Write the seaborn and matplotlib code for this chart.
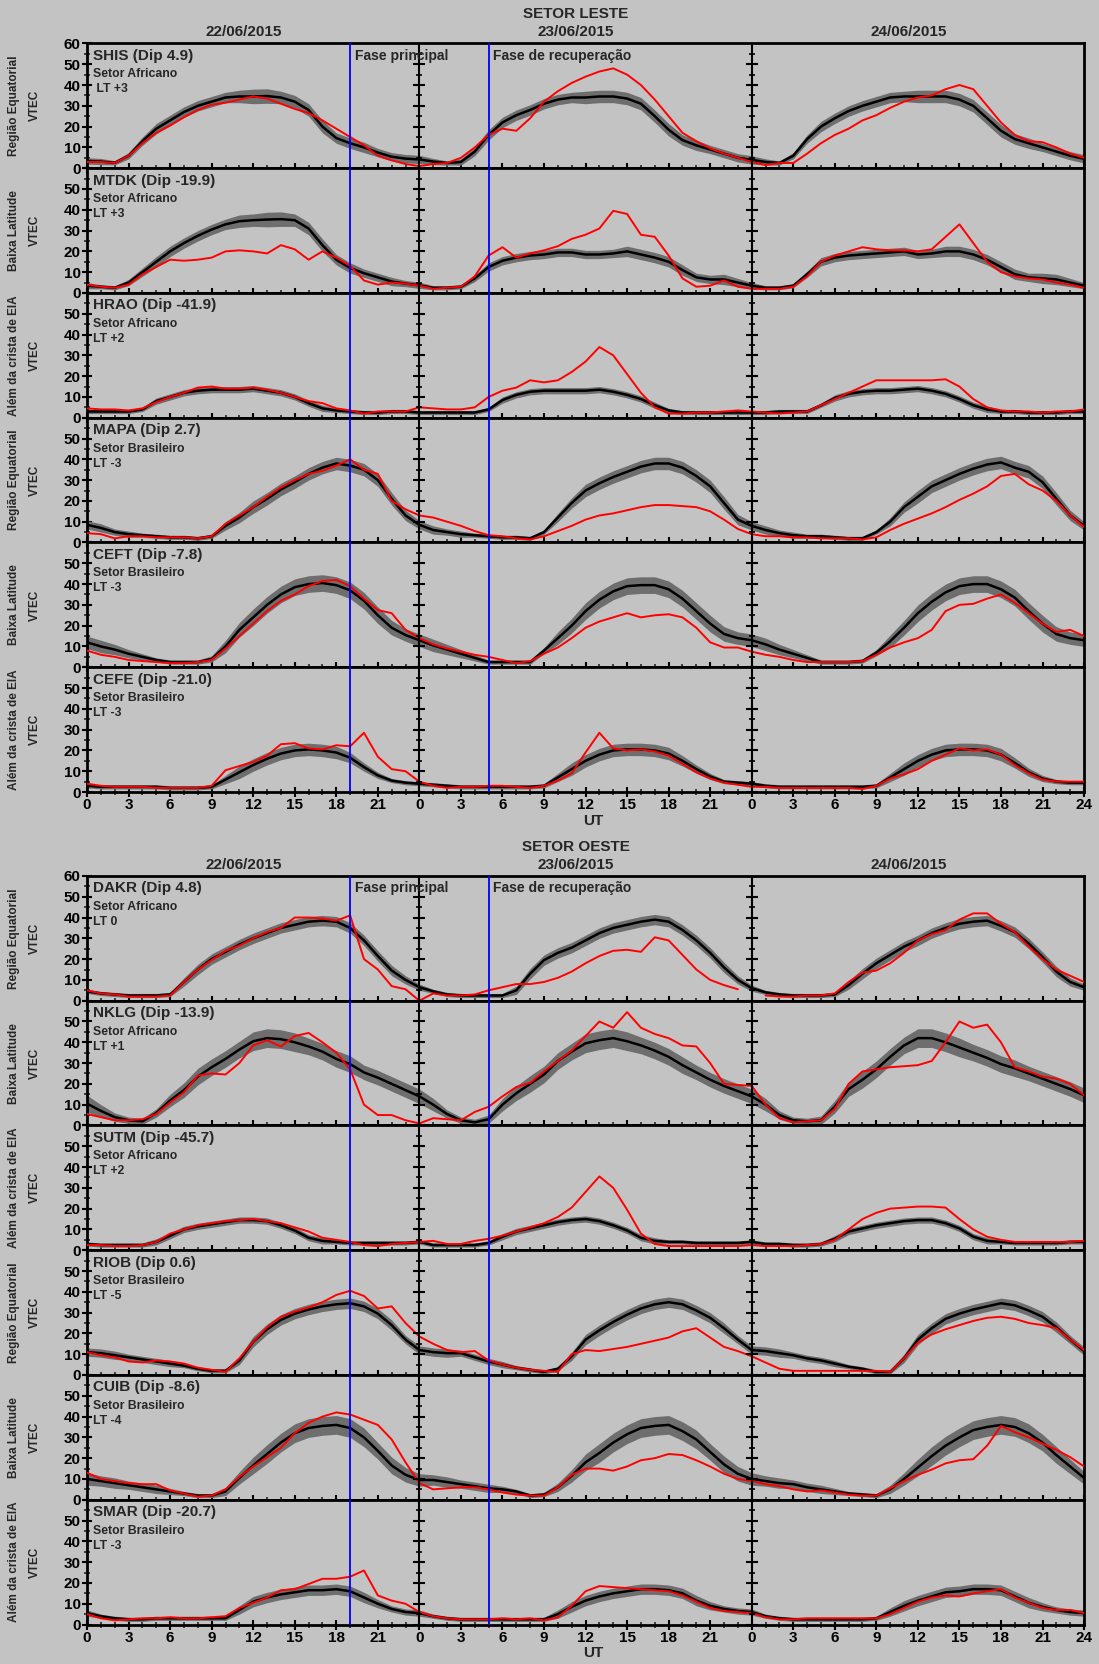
import numpy as np
import matplotlib
matplotlib.use('Agg')
import matplotlib.pyplot as plt
from matplotlib.ticker import MultipleLocator
import seaborn as sns

sns.set_theme(style='ticks')
plt.rcParams['font.family'] = ['Liberation Sans', 'DejaVu Sans']
plt.rcParams['font.weight'] = 'bold'

nan = np.nan
hours = np.arange(73)   # 22/06 00 UT .. 24/06 24 UT
days = ['22/06/2015', '23/06/2015', '24/06/2015']
region_labels = ['Região Equatorial', 'Baixa Latitude', 'Além da crista de EIA']

# ---------------- SETOR LESTE ----------------
SHIS_mean = [3.5,3.2,2.6,6,13,19,23,27,30,32,34,34.5,34.5,34.7,34,32,28,20,14.5,12,10,7.5,5.5,4.6,4.2,
             3.2,2.5,3,8,16,22,25.5,28,31,33,34,34,34.5,34.5,33.5,31,25,18.5,13.5,11,9,7,5,4,
             3,2.5,6,14,20,24,27.5,30,32,34,34.5,34.5,34.5,34.5,33,30,24,18,14,12,10,8,6,4.5]
SHIS_sd = [1.5,1.5,1,1.5,2,2.5,2.5,2.5,2.5,2.5,2.5,3,3.5,3.5,3,3,3,3,2.5,2.5,2.5,2,2,2,2,
           1.5,1,1.5,2,2.5,2.5,2.5,2.5,2.5,2.5,2.5,3,3,3,3,3,3,3,2.5,2.5,2,2,2,2,
           1.5,1,1.5,2,2.5,2.5,2.5,2.5,2.5,2.5,2.5,3,3,3,3,3,3,3,2.5,2.5,2,2,2,2]
SHIS_red = [3,3,2.5,6,12,17,20.5,24.5,28,30.5,31.5,33,34.5,33.5,31,28.5,26.5,23,19,15,11,6,3.8,2,1,
            2,2.5,5,10,16,19,18,24,32,37,41,44,46.5,48,45,40,33,25,17,13,9.5,7,5,3,
            1.5,2.5,2.5,7,12,16,19,23,25.5,29,32,34,35,38,40,38,30,22,16,13,12.5,10,7,5]

MTDK_mean = [3.5,3,2.5,5,10,15,20,24,27.5,30.5,33,34.5,35,35.3,35.5,35,31,23,16,12,9.5,7.5,5.5,4.5,3.7,
             2.5,2.5,3,7,12.5,15.5,17,18,18.5,19.5,19.5,18.5,18.5,19,20,18.5,17,15,11,7.5,6.5,6.5,5,3.5,
             2.5,2.5,3.5,9,15,17,18,18.5,19,19.5,20,18.5,19,20,20,18.5,16,12.5,9,7.5,7,6.5,5,3.5]
MTDK_sd = [1.5,1,1,1.5,2,2.5,2.5,2.5,2.5,2.5,2.5,3,3,3.5,3.5,3,3,3,2.5,2.5,2,2,2,1.5,1.5,
           1,1,1,1.5,2,2,2,2,2,2,2,2,2,2,2.5,2.5,2.5,2.5,2.5,2,2,2.5,2,1.5,
           1,1,1,1.5,2,2,2,2,2,2,2,2,2,2.5,2.5,2.5,2.5,2.5,2.5,2,2.5,2.5,2,1.5]
MTDK_red = [4,3,2.5,4,9,12.5,16,15.5,16,17,20,20.5,20,19,23,21,16,20,17,13,6,4,5,4.5,3.5,
            2,2.5,3,8,18,22,17,19,20.5,22.5,26,28,31,39.5,38,28,27,18,7,3,3.5,6,3,2,
            2,2,3,8,15,18,20,22,21,20.5,20.5,20,21,27,33,24,15,10,8,7,6.5,5,4,2.5]

HRAO_mean = [3,3,3,3,4,8,10,12,13,13.5,13.5,13.5,14,13,12,10,7,4.5,3.5,3,2.5,2.5,3,3,2.5,
             2.5,2.5,2.5,2.5,4,8.5,11,12.5,13,13,13,13,13.5,12.5,11,9,6,3.5,2.5,2.5,2.5,2.5,2.5,2.5,
             2.5,3,3,3,6,9.5,11.5,12.5,13,13,13.5,14,13,11.5,9,6,4,3,3,2.5,2.5,2.5,3,3]
HRAO_sd = [1,1,1,1,1,1.5,1.5,1.5,1.5,1.5,1.5,1.5,1.5,1.5,1.5,1.5,1.5,1.5,1,1,1,1,1,1,1,
           1,1,1,1,1,1.5,1.5,1.5,1.5,1.5,1.5,1.5,1.5,1.5,1.5,1.5,1.5,1,1,1,1,1,1,1,
           1,1,1,1,1,1.5,1.5,1.5,1.5,1.5,1.5,1.5,1.5,1.5,1.5,1.5,1.5,1,1,1,1,1,1,1]
HRAO_red = [4.5,4,4,3.5,4.5,7.5,10,12,14.5,15,14,14,14.5,13.5,12,10,8,7,4.5,3.5,2,3,3,3,5,
            4.5,4,4,5,10,13,14.5,18,17,18,22,27,34,30,21,12,5,2,2,2.5,2.5,3,3.5,3,
            2.5,2,2.5,3,6,9,12,15,18,18,18,18,18,18.5,15,9,5,3.5,3,3,2.5,3,3,4]

MAPA_mean = [8.5,7,5,4,3.5,3,2.5,2.5,2,3,8,12,17,21,25.5,29,33,36,38,37,35,30,21,13,8.5,
             6,5,4,3.5,3,2.5,2.5,2,5,12,19,25,28.5,31.5,34,36.5,38,38,36,32,27,19,11,8,
             6,4.5,3.5,3,3,2.5,2,2,5,10,17,22,27,30,33,35.5,37.5,38.5,36,34,29,21,13,8]
MAPA_sd = [2,2,1.5,1.5,1,1,1,1,1,1,2,2.5,3,3,3,3,3,3,3,3,3,3,3,2.5,2,
           2,1.5,1.5,1,1,1,1,1,1,2,2.5,3,3,3,3,3,3,3,3,3,3,3,2.5,2,
           2,1.5,1.5,1,1,1,1,1,1,2,2.5,3,3,3,3,3,3,3,3,3,3,3,2.5,2]
MAPA_red = [4.5,4,2,3,3,2.5,2.5,2.5,2,3,9,13,17,22,26.5,30,33,34.5,37,40,35,33,20,16,13,
            12,10,8,5.5,3.5,3,2,1.5,3,5.5,8,11,13,14,15.5,17,18,18,17.5,17,15,11,6.5,4,
            3,3,2.5,2.5,2,2,2,1.5,2.5,6,9,11.5,14,17,20.5,23.5,27,32,33,28,25,20,13,7.5]

CEFT_mean = [12,10,8.5,6.5,5,3.5,2.5,2.5,2.5,4,10,18,24,30,35,38.5,40,40.5,39.5,37,32,25,19,15.5,13,
             10.5,8.5,6.5,4.5,2.5,2.5,2.5,2.5,8,14,20,27,32.5,36.5,39,39.5,39.5,37.5,33,27,21,16,14,13,
             11,8.5,6.5,4.5,2.5,2.5,2.5,3,7,12.5,19,26,31.5,36,39,40,40,37.5,33.5,27,21,16,14,13]
CEFT_sd = [3,3,2.5,2,1.5,1,1,1,1,1.5,3,3.5,4,4,4,4,4,4,4,4,4,4,3.5,3,3,
           3,2.5,2,1.5,1,1,1,1,1.5,3,3.5,4,4,4,4,4,4,4,4,4,4,3.5,3,3,
           3,2.5,2,1.5,1,1,1,1,1.5,3,3.5,4,4,4,4,4,4,4,4,4,4,3.5,3,3]
CEFT_red = [8,6,5,3.5,3,2.5,2,2,2.5,3.5,9,15,21,27,32,35,39,41.5,42,39,33,27.5,26,18,14,
            11,9,7.5,6,5,3.5,2,3,6.5,9.5,14,19,22,24,26,24,25,25.5,24,19,12,9.5,9.5,7.5,
            6,5,3.5,2.5,2.5,2.5,2.5,3,6,9.5,12,14,18,27,30,30.5,33,35,31,26,21,17,18,15]

CEFE_mean = [3,2.5,2.5,2.5,2.5,2.5,2,2,2,2.5,6,9.5,13,16,18.5,20,20.5,20,19,16.5,12,8,5.5,4.5,4,
             3.5,3,2.5,2.5,2.5,2.5,2.5,2.5,3,7,11,15,18,20,20.5,20.5,20,18.5,15,11,7.5,5,4.5,4,
             3,2.5,2.5,2.5,2.5,2.5,2.5,2.5,3,7,11,15,18,20,20.5,20.5,20,18,14,9.5,6.5,5,4.5,4.5]
CEFE_sd = [1,1,1,1,1,1,1,1,1,1,2,3,3,3,3,3,3,3,3,2.5,2,1.5,1,1,1,
           1,1,1,1,1,1,1,1,1,2,3,3,3,3,3,3,3,3,2.5,2,1.5,1,1,1,
           1,1,1,1,1,1,1,1,1,2,3,3,3,3,3,3,3,3,2.5,2,1.5,1,1,1]
CEFE_red = [4,3,2.5,2.5,2.5,2,2,2,2,3,10.5,12.5,14.5,17.5,23,23.5,21,20.5,22.5,22,28.5,17,11,10,5,
            3,2,2.5,2.5,3,3,2.5,2,3,5.5,9,19,28.5,21,20,20.5,19.5,17.5,13.5,9.5,6.5,4.5,3.5,2.5,
            2.5,2,2,2,2,2,2,1.5,3,6.5,8.5,11,15,18,21,20,20.5,18,13,9,6,5,5,5]

# ---------------- SETOR OESTE ----------------
DAKR_mean = [4.5,3.5,3,2.5,2.5,2.5,3,9,15,20,23.5,27,30,32.5,35,36.5,38,38.5,38,35,29,21.5,14.5,10,6.5,
             4.5,3,2.5,2.5,2.5,2.5,5,13,19.5,23,25.5,29,32.5,35,36.5,38,39,38,34,29,23,16,10,6,
             4,3,2.5,2.5,2.5,3,7.5,13,18,22,26,29,32.5,35,37,38,38.5,36,33,27.5,21,14,9,6.5]
DAKR_sd = [1,1,1,1,1,1,1,2,2.5,2.5,2.5,2.5,2.5,2.5,2.5,2.5,2.5,2.5,2.5,2.5,2.5,2.5,2.5,2,1.5,
           1,1,1,1,1,1,2,2.5,2.5,2.5,2.5,2.5,2.5,2.5,2.5,2.5,2.5,2.5,2.5,2.5,2.5,2.5,2,1.5,
           1,1,1,1,1,1,2,2.5,2.5,2.5,2.5,2.5,2.5,2.5,2.5,2.5,2.5,2.5,2.5,2.5,2.5,2.5,2,1.5]
DAKR_red = [5,3.5,3,2,2,2,2.5,9,15,19.5,24,26.5,30,33,35,40,40,39.5,38.5,41,20,15,7,5.5,0,
            3.5,2.5,2.5,3,5,6.5,8,8,9,11,14,18,21.5,24,24.5,23.5,30.5,29,22,15,10,7.5,5.5,nan,
            2.5,2,2,2.5,2.5,3.5,9,13.5,14.5,18,23,29,32,34,39,42,42,37,33,26,20,15,12,9]

NKLG_mean = [10.5,7,4,2.5,2,6,12,17,23.5,28,32,36.5,40.5,42,41.5,40,38,35.5,32,29.5,25.5,23,20,17,14,
             10,5.5,2.5,1.5,3,10,15.5,20,24.5,31,35.5,39.5,41,42,40.5,38.5,36,33,29,25.5,22,19,16.5,14,
             10,5,2.5,2,2.5,9,17.5,22,27,33,38.5,42,42,40,37.5,35,32.5,29.5,27.5,25,22.5,20,17.5,14.5]
NKLG_sd = [4,3,2,1.5,1.5,2,3,3.5,4,4,4,4,4.5,4.5,4.5,4.5,4,4,4,4,3.5,3.5,3.5,3.5,3.5,
           3,2,1.5,1.5,2,3,3.5,4,4,4,4,4.5,4.5,4.5,4.5,4,4,4,4,3.5,3.5,3.5,3.5,3.5,
           3,2,1.5,1.5,2,3,3.5,4,4,4,4,4.5,4.5,4.5,4.5,4,4,4,4,3.5,3.5,3.5,3.5,3.5]
NKLG_red = [5.5,4,2.5,2.5,3,5.5,11,16,24,25,24.5,30,38.5,41,38,43,44.5,40,35,27,10,5,5,2.5,1,
            3.5,3,2.5,6.5,9,14,18.5,20.5,26,31,36,43,50,47,54.5,47,44,42,38.5,38,30,20,19.5,19,
            10,3.5,1.5,2,2.5,8,20,26,27,28,28.5,29,31,40,50,47,48.5,40,28,26,23.5,22.5,20,14.5]

SUTM_mean = [3,2.5,2.5,2.5,2.5,4,7,10,11.5,12.5,13.5,14.5,14.5,14,12,9.5,6,4.5,4,3.5,3.5,3.5,3.5,3.5,4,
             2.5,2.5,2.5,2.5,3.5,6.5,9,10.5,12,13.5,14.5,15,14,12,9.5,6,4.5,4,4,3.5,3.5,3.5,3.5,4,
             3,3,2.5,2.5,3,5.5,9,10.5,12,13,14,14.5,14.5,13,10.5,6.5,4.5,4,3.5,3.5,3.5,3.5,4,4]
SUTM_sd = [1,1,1,1,1,1.5,1.5,1.5,1.5,1.5,1.5,1.5,1.5,1.5,1.5,1.5,1.5,1.5,1,1,1,1,1,1,1,
           1,1,1,1,1,1.5,1.5,1.5,1.5,1.5,1.5,1.5,1.5,1.5,1.5,1.5,1.5,1,1,1,1,1,1,1,
           1,1,1,1,1,1.5,1.5,1.5,1.5,1.5,1.5,1.5,1.5,1.5,1.5,1.5,1.5,1,1,1,1,1,1,1]
SUTM_red = [2.5,2.5,2,2,2.5,4,8,10,12,13,14,14.5,15,14,13,11,9,6,5,4,2.5,2,3,3.5,4,
            4.5,3,3,4.5,5.5,7,9,11,13,16,20.5,28,35.5,30,19.5,8,3,2,2,2,2,2,2,2.5,
            2,2,2,2.5,3,5,10,15,18,20,20.5,21,21,20.5,15,10,6.5,5,4,4,4,4,4,4.5]

RIOB_mean = [11,10.5,9.5,8.5,7.5,6.5,5.5,4.5,3,2,2,7,16,22,26.5,29.5,31.5,33,34,34.5,33,29.5,24,17,12,
             11,10.5,10.5,8.5,6.5,5,3.5,2.5,1.5,3,9,17,21.5,25.5,29,32,34,35,34,31,27.5,22.5,17,12,
             11.5,10.5,9.5,8,7,5.5,4,3,1.5,1.5,8,17,22.5,27,29.5,31.5,33,34.5,33.5,31,28,23,17,11.5]
RIOB_sd = [2,2,2,1.5,1.5,1.5,1.5,1,1,1,1,2,2.5,2.5,2.5,2.5,2.5,2.5,2.5,2.5,2.5,2.5,2.5,2,2,
           2,2,1.5,1.5,1.5,1.5,1,1,1,1,2,2.5,2.5,2.5,2.5,2.5,2.5,2.5,2.5,2.5,2.5,2.5,2,2,
           2,2,1.5,1.5,1.5,1.5,1,1,1,1,2,2.5,2.5,2.5,2.5,2.5,2.5,2.5,2.5,2.5,2.5,2.5,2,2]
RIOB_red = [11,9.5,8.5,6.5,6,7,6.5,5.5,3.5,2.5,1.5,8,16,23,28,30.5,32.5,35,38.5,40.5,38,32,33,25,18.5,
            15,12,11,11.5,7,5,3.5,2.5,2,1.5,10,12,11.5,12.5,13.5,15,16.5,18,21,22.5,18,13.5,11.5,9,
            6,3,2,2,2,2,2,2,2,1.5,8,15.5,19.5,22,24,26,27.5,28,27,25,24,22.5,17,12]

CUIB_mean = [10,9,8,7,6,5,4,3,2,2,4,10.5,16.5,22,27.5,32,34.5,35.5,36,34.5,30,23.5,16.5,12,9.5,
             9.5,8.5,7.5,6.5,5.5,5,4,2,2.5,6,11.5,18,22.5,27.5,31.5,34.5,35.5,36,33,29,23,17,12.5,10,
             9,8,7.5,6,5,4,3,2.5,2,5,10,15.5,21,26,30,33.5,35,36,35,32,27.5,21.5,16,10.5]
CUIB_sd = [3,2.5,2.5,2,2,2,1.5,1,1,1,2,3,4,4.5,4.5,4.5,4.5,4.5,4.5,4.5,4.5,4,4,3.5,3,
           2.5,2.5,2,2,2,1.5,1,1,1,2,3,4,4.5,4.5,4.5,4.5,4.5,4.5,4.5,4.5,4,4,3.5,3,
           2.5,2.5,2,2,2,1.5,1,1,1,2,3,4,4.5,4.5,4.5,4.5,4.5,4.5,4.5,4.5,4,4,3.5,3]
CUIB_red = [13,10,9,8,7.5,7.5,4.5,3,1.5,2,5,11,16,20.5,25,32,37,40,42,41,38.5,36,29,18,8,
            5,5.5,6,6,5,3.5,2.5,2,2,6,12,15,15,14,16,19,20,22,21.5,19,16,12.5,10,9,
            7.5,6.5,5,4,4.5,3.5,2.5,2,2,5.5,9,12,14.5,17.5,19,19.5,26,35.5,32.5,30,27,24,20.5,16]

SMAR_mean = [5.5,4,3,2.5,2.5,3,3,3,3,3,3,7,11,13,14.5,15.5,16.5,16.5,17,16,13,10,7.5,6,5.5,
             4,3,2.5,2.5,2.5,2.5,2.5,2.5,2.5,5,8.5,11.5,13.5,15,16,17,17,16.5,15,11.5,9,7.5,6.5,6,
             4,3,2.5,2.5,2.5,2.5,2.5,2.5,3,6,9,11.5,13.5,15.5,16,17,17,16.5,13.5,10.5,8.5,7,6,5.5]
SMAR_sd = [1.5,1,1,1,1,1,1,1,1,1,1,2,2.5,2.5,2.5,2.5,2.5,2.5,2.5,2.5,2.5,2,1.5,1.5,1.5,
           1,1,1,1,1,1,1,1,1,2,2.5,2.5,2.5,2.5,2.5,2.5,2.5,2.5,2.5,2.5,2,1.5,1.5,1.5,
           1,1,1,1,1,1,1,1,1,2,2.5,2.5,2.5,2.5,2.5,2.5,2.5,2.5,2.5,2.5,2,1.5,1.5,1.5]
SMAR_red = [5,3,2,2.5,3,3,3.5,3,3,3.5,4,8,10.5,13,16.5,17,19.5,22,22,23,26,14,11.5,10,6,
            4,3,2.5,2.5,2.5,3,2.5,3,2,3.5,9,16,18.5,18,17.5,17,16.5,16,14,11,8,6.5,6,5.5,
            3.5,2.5,2.5,3,3,3,3,3,3,5,8,11,13,14,13.5,15,16,17,13,10.5,8,7,7,5.5]

east_rows = [
    ('SHIS (Dip 4.9)', 'Setor Africano', ' LT +3', SHIS_mean, SHIS_sd, SHIS_red),
    ('MTDK (Dip -19.9)', 'Setor Africano', 'LT +3', MTDK_mean, MTDK_sd, MTDK_red),
    ('HRAO (Dip -41.9)', 'Setor Africano', 'LT +2', HRAO_mean, HRAO_sd, HRAO_red),
    ('MAPA (Dip 2.7)', 'Setor Brasileiro', 'LT -3', MAPA_mean, MAPA_sd, MAPA_red),
    ('CEFT (Dip -7.8)', 'Setor Brasileiro', 'LT -3', CEFT_mean, CEFT_sd, CEFT_red),
    ('CEFE (Dip -21.0)', 'Setor Brasileiro', 'LT -3', CEFE_mean, CEFE_sd, CEFE_red),
]
west_rows = [
    ('DAKR (Dip 4.8)', 'Setor Africano', 'LT 0', DAKR_mean, DAKR_sd, DAKR_red),
    ('NKLG (Dip -13.9)', 'Setor Africano', 'LT +1', NKLG_mean, NKLG_sd, NKLG_red),
    ('SUTM (Dip -45.7)', 'Setor Africano', 'LT +2', SUTM_mean, SUTM_sd, SUTM_red),
    ('RIOB (Dip 0.6)', 'Setor Brasileiro', 'LT -5', RIOB_mean, RIOB_sd, RIOB_red),
    ('CUIB (Dip -8.6)', 'Setor Brasileiro', 'LT -4', CUIB_mean, CUIB_sd, CUIB_red),
    ('SMAR (Dip -20.7)', 'Setor Brasileiro', 'LT -3', SMAR_mean, SMAR_sd, SMAR_red),
]

bg = '#c3c3c3'
band = '#6e6e6e'
fig = plt.figure(figsize=(10.99, 16.64), dpi=100, facecolor=bg)

left, width = 0.0792, 0.9072
panel_h = 0.07498


def draw_block(top, rows, sector, title_y, date_y, ut_y):
    fig.text(0.524, title_y, sector, ha='center', va='center', fontsize=11, fontweight='bold')
    for k, d in enumerate(days):
        fig.text(left + width * (k * 24 + 11.3) / 72, date_y, d, ha='center', va='center',
                 fontsize=11, fontweight='bold')
    for i, (name, setor, lt, mean, sd, red) in enumerate(rows):
        mean = np.array(mean, dtype=float)
        sd = np.array(sd, dtype=float)
        red = np.array(red, dtype=float)
        assert len(mean) == len(sd) == len(red) == 73, name

        y0 = top - (i + 1) * panel_h
        ax = fig.add_axes([left, y0, width, panel_h])
        ax.set_facecolor(bg)

        ax.fill_between(hours, mean - sd, mean + sd, color=band, lw=0, zorder=1)
        sns.lineplot(x=hours, y=mean, color='black', lw=1.8, ax=ax, zorder=3)
        ax.plot(hours, red, color='#ff0000', lw=1.4, zorder=4)

        # day separators and phase markers
        for xd in (24, 48):
            ax.axvline(xd, color='black', lw=1.5, zorder=5)
            ax.plot(np.full(7, xd), np.arange(0, 61, 10), ls='none', marker='_',
                    ms=8, mew=1.5, color='black', zorder=5)
            ax.plot(np.full(6, xd), np.arange(5, 60, 10), ls='none', marker='_',
                    ms=4, mew=1.2, color='black', zorder=5)
        ax.axvline(19, color='#0000ff', lw=1.3, zorder=6)
        ax.axvline(29, color='#0000ff', lw=1.3, zorder=6)

        ax.set_xlim(0, 72)
        ax.set_ylim(0, 60)
        ax.set_xticks(range(0, 73, 3))
        ax.set_xticklabels(['24' if h == 72 else str(h % 24) for h in range(0, 73, 3)])
        ax.xaxis.set_minor_locator(MultipleLocator(1))
        ax.set_yticks(range(0, 61, 10))
        ax.set_yticklabels([str(v) if (v < 60 or i == 0) else '' for v in range(0, 61, 10)])
        ax.yaxis.set_minor_locator(MultipleLocator(5))
        ax.tick_params(which='major', direction='inout', length=7, width=1.5,
                       labelsize=11, pad=1, colors='black')
        ax.tick_params(which='minor', direction='inout', length=4, width=1.2)
        ax.tick_params(axis='x', labelbottom=(i == len(rows) - 1))
        for lab in ax.get_xticklabels() + ax.get_yticklabels():
            lab.set_fontweight('bold')
        for sp in ax.spines.values():
            sp.set_visible(True)
            sp.set_linewidth(2)
            sp.set_color('black')
        ax.set_xlabel('')
        ax.set_ylabel('')

        ax.text(0.006, 0.90, name, transform=ax.transAxes, ha='left', va='center',
                fontsize=11, fontweight='bold')
        ax.text(0.006, 0.752, setor, transform=ax.transAxes, ha='left', va='center',
                fontsize=8.8, fontweight='bold')
        ax.text(0.006, 0.632, lt, transform=ax.transAxes, ha='left', va='center',
                fontsize=8.8, fontweight='bold')
        if i == 0:
            ax.text(19.35, 0.90 * 60, 'Fase principal', ha='left', va='center',
                    fontsize=10, fontweight='bold', zorder=7)
            ax.text(29.35, 0.90 * 60, 'Fase de recuperação', ha='left', va='center',
                    fontsize=10, fontweight='bold', zorder=7)

        yc = y0 + panel_h / 2
        fig.text(0.0126, yc, region_labels[i % 3], rotation=90, ha='center', va='center',
                 fontsize=8.5, fontweight='bold')
        fig.text(0.0318, yc, 'VTEC', rotation=90, ha='center', va='center',
                 fontsize=8.5, fontweight='bold')

    fig.text(0.54, ut_y, 'UT', ha='center', va='center', fontsize=11, fontweight='bold')


draw_block(0.9739, east_rows, 'SETOR LESTE', 0.9916, 0.9808, 0.5066)
draw_block(0.4736, west_rows, 'SETOR OESTE', 0.4910, 0.4802, 0.0066)

fig.savefig('out.png', dpi=100, facecolor=bg)
